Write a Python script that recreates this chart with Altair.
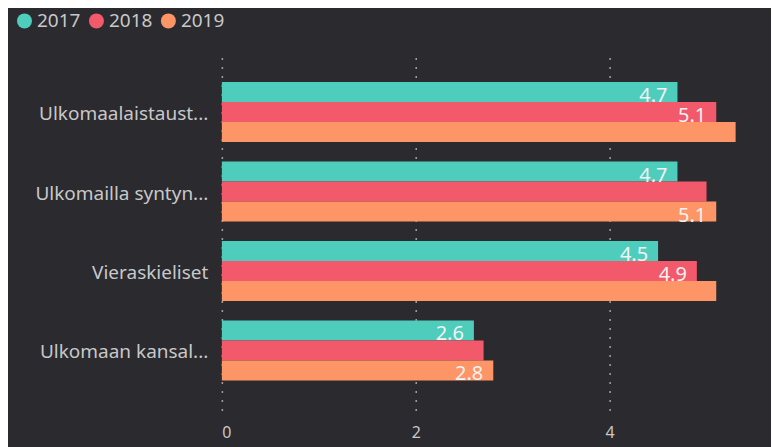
import altair as alt
import pandas as pd

categories = ["Ulkomaalaistaust...", "Ulkomailla syntyn...", "Vieraskieliset", "Ulkomaan kansal..."]
years = ["2017", "2018", "2019"]
v2017 = [4.7, 4.7, 4.5, 2.6]
v2018 = [5.1, 5.0, 4.9, 2.7]
v2019 = [5.3, 5.1, 5.1, 2.8]
# data labels shown in the picture (None = hidden)
lab2017 = ["4.7", "4.7", "4.5", "2.6"]
lab2018 = ["5.1", None, "4.9", None]
lab2019 = [None, "5.1", None, "2.8"]
colors = ["#4ECDBD", "#F2596A", "#FE9566"]
x_ticks = [0, 2, 4]

rows = []
for yr, vals, labs in zip(years, [v2017, v2018, v2019], [lab2017, lab2018, lab2019]):
    for c, v, l in zip(categories, vals, labs):
        rows.append({"cat": c, "year": yr, "value": v, "label": l if l is not None else ""})
df = pd.DataFrame(rows)

FONT = "Noto Sans"
TXT = "#c8c8c8"

y_enc = alt.Y("cat:N", sort=categories, title=None,
              scale=alt.Scale(paddingInner=0.245, paddingOuter=0.377),
              axis=alt.Axis(labelFontSize=19, labelColor=TXT, labelFont=FONT, labelPadding=14,
                            labelOffset=2, ticks=False, domain=False, grid=False, labelLimit=300))
x_enc = alt.X("value:Q", title=None,
              scale=alt.Scale(domain=[0, 5.5], nice=False, zero=True),
              axis=alt.Axis(values=x_ticks, labelFontSize=16, labelColor=TXT, labelFont=FONT,
                            labelPadding=14, ticks=False, domain=False, grid=True,
                            gridDash=[2, 7], gridColor="#9a9a9a", gridWidth=1.6, format="d"))
yoff = alt.YOffset("year:N", sort=years)

bars = alt.Chart(df).mark_bar(cornerRadius=0).encode(
    y=y_enc, x=x_enc, yOffset=yoff,
    color=alt.Color("year:N", sort=years,
                    scale=alt.Scale(domain=years, range=colors),
                    legend=alt.Legend(title=None, orient="none", legendX=-207, legendY=-41,
                                      direction="horizontal", symbolType="circle", symbolSize=225,
                                      symbolStrokeWidth=0, labelFontSize=19, labelColor=TXT,
                                      labelFont=FONT, labelOffset=3, columnPadding=6)),
)

labels = alt.Chart(df).transform_filter(alt.datum.label != "").mark_text(
    align="right", baseline="alphabetic", dx=-10, dy=10, fontSize=20, font=FONT, color="#f2f2f2"
).encode(
    y=alt.Y("cat:N", sort=categories), x="value:Q", yOffset=yoff, text="label:N"
)

chart = alt.layer(bars, labels).properties(
    width=533.5, height=358.5,
    background="#2a2a2f",
    autosize=alt.AutoSizeParams(type="none"),
    padding={"left": 214, "top": 44, "right": 16, "bottom": 36},
).configure_view(stroke=None)

chart.save("out.html", embed_options={"renderer": "svg", "actions": False})
